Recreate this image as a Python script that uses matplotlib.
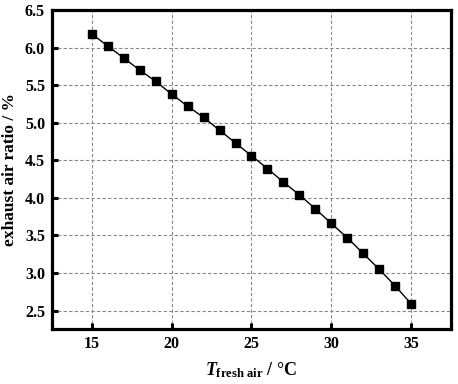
import numpy as np
import matplotlib
matplotlib.use("Agg")
import matplotlib.pyplot as plt

# fresh air temperature (degC) and exhaust air ratio (%)
t_fresh = [15, 16, 17, 18, 19, 20, 21, 22, 23, 24, 25,
           26, 27, 28, 29, 30, 31, 32, 33, 34, 35]
exhaust_ratio = [6.18, 6.02, 5.86, 5.70, 5.55, 5.38, 5.22, 5.07, 4.90, 4.73, 4.56,
                 4.39, 4.21, 4.04, 3.855, 3.66, 3.47, 3.26, 3.05, 2.83, 2.59]
x_ticks = [15, 20, 25, 30, 35]
y_ticks = [2.5, 3.0, 3.5, 4.0, 4.5, 5.0, 5.5, 6.0, 6.5]

plt.rcParams['font.family'] = ['Liberation Serif', 'DejaVu Serif']
plt.rcParams['font.weight'] = 'bold'
plt.rcParams['mathtext.fontset'] = 'custom'
plt.rcParams['mathtext.rm'] = 'Liberation Serif:bold'
plt.rcParams['mathtext.it'] = 'Liberation Serif:italic:bold'
plt.rcParams['mathtext.bf'] = 'Liberation Serif:bold'

fig = plt.figure(figsize=(4.58, 3.84), dpi=100)
ax = fig.add_axes([0.1135, 0.1432, 0.8712, 0.8308])

ax.plot(t_fresh, exhaust_ratio, color='black', lw=1.0, marker='s', ms=5.2,
        markerfacecolor='black', markeredgecolor='black', zorder=3)

ax.set_xlim(12.5, 37.5)
ax.set_ylim(2.255, 6.5)
ax.set_xticks(x_ticks)
ax.set_yticks(y_ticks)
ax.set_yticklabels(["%.1f" % v for v in y_ticks])
ax.grid(True, color='#888888', ls=(0, (3, 2)), lw=0.8)
ax.set_axisbelow(True)

for s in ax.spines.values():
    s.set_linewidth(2.3)
ax.tick_params(direction='in', length=4.5, width=2.2, labelsize=11.5, pad=5,
               top=False, right=False)
for lab in ax.get_xticklabels() + ax.get_yticklabels():
    lab.set_fontweight('bold')

ax.set_ylabel("exhaust air ratio / %", fontsize=12.5, fontweight='bold', labelpad=5)
ax.set_xlabel(r"$T_{\rm fresh\ air}$ / °C", fontsize=13, fontweight='bold', labelpad=6)

fig.savefig("out.png", dpi=100)
